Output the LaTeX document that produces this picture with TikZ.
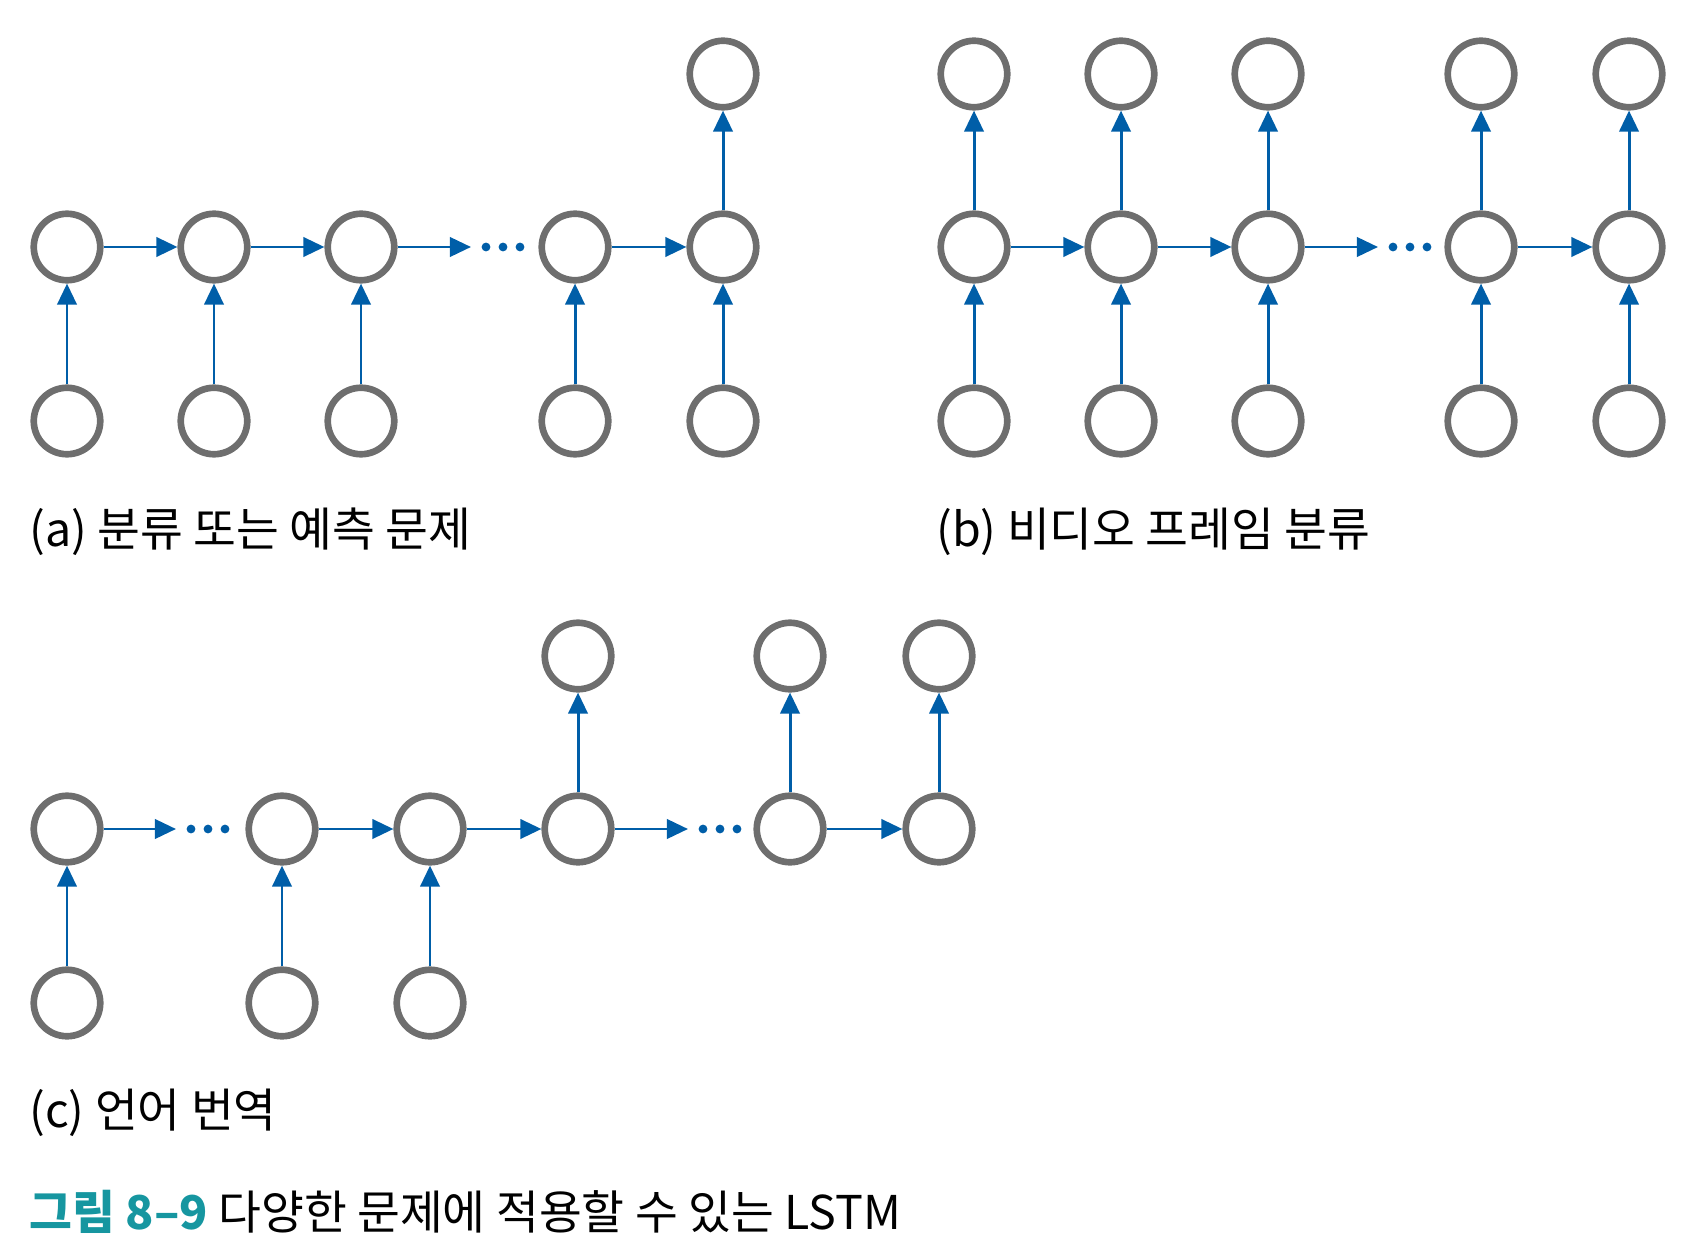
\documentclass[tikz,border=0pt]{standalone}
\usepackage{fontspec}
\setmainfont{Noto Sans CJK KR}
\usetikzlibrary{arrows.meta}
\definecolor{cellgray}{RGB}{110,110,110}
\definecolor{flowblue}{RGB}{0,94,168}
\definecolor{capteal}{RGB}{22,150,160}
\tikzset{
	cell/.style={circle,draw=cellgray,line width=3.8pt,minimum size=1.33cm,inner sep=0pt},
	flow/.style={flowblue,line width=1.7pt,-{Triangle[length=12pt,width=11pt]}},
	lbl/.style={anchor=west,inner sep=0pt,font=\fontsize{26.5}{30}\selectfont},
}
\begin{document}
\begin{tikzpicture}[x=0.02cm,y=-0.02cm]
	\useasboundingbox (0,0) rectangle (1700,1253) ;
	% (a) many to one
	\foreach \n/\x in {1/67,2/214,3/361,4/575,5/723} {
		\node[cell] (ax\n) at (\x,421) {} ;
		\node[cell] (ah\n) at (\x,247) {} ;
		\draw[flow] (ax\n) -- (ah\n) ;
	}
	\node[cell] (ay5) at (723,74) {} ;
	\draw[flow] (ah5) -- (ay5) ;
	\draw[flow] (ah1) -- (ah2) ; \draw[flow] (ah2) -- (ah3) ; \draw[flow] (ah4) -- (ah5) ;
	\coordinate (adots) at (471,247) ; \draw[flow] (ah3) -- (adots) ;
	\foreach \d in {486,503,520} \fill[flowblue] (\d,247) circle (2.5pt) ;
	\node[lbl] (lbla) at (29,532) {(a) 분류 또는 예측 문제} ;
	% (b) many to many, synced
	\foreach \n/\x in {1/974,2/1121,3/1268,4/1481,5/1629} {
		\node[cell] (bx\n) at (\x,421) {} ;
		\node[cell] (bh\n) at (\x,247) {} ;
		\node[cell] (by\n) at (\x,74) {} ;
		\draw[flow] (bx\n) -- (bh\n) ;
		\draw[flow] (bh\n) -- (by\n) ;
	}
	\draw[flow] (bh1) -- (bh2) ; \draw[flow] (bh2) -- (bh3) ; \draw[flow] (bh4) -- (bh5) ;
	\coordinate (bdots) at (1378,247) ; \draw[flow] (bh3) -- (bdots) ;
	\foreach \d in {1393,1410,1427} \fill[flowblue] (\d,247) circle (2.5pt) ;
	\node[lbl] (lblb) at (936,532) {(b) 비디오 프레임 분류} ;
	% (c) encoder-decoder
	\foreach \n/\x in {1/67,2/282,3/430,4/578,5/790,6/939} {
		\node[cell] (ch\n) at (\x,829) {} ;
	}
	\foreach \n/\x in {1/67,2/282,3/430} {
		\node[cell] (cx\n) at (\x,1003) {} ;
		\draw[flow] (cx\n) -- (ch\n) ;
	}
	\foreach \n/\x in {4/578,5/790,6/939} {
		\node[cell] (cy\n) at (\x,656) {} ;
		\draw[flow] (ch\n) -- (cy\n) ;
	}
	\draw[flow] (ch2) -- (ch3) ; \draw[flow] (ch3) -- (ch4) ; \draw[flow] (ch5) -- (ch6) ;
	\coordinate (cdots1) at (176,829) ; \draw[flow] (ch1) -- (cdots1) ;
	\foreach \d in {191,208,225} \fill[flowblue] (\d,829) circle (2.5pt) ;
	\coordinate (cdots2) at (688,829) ; \draw[flow] (ch4) -- (cdots2) ;
	\foreach \d in {703,720,737} \fill[flowblue] (\d,829) circle (2.5pt) ;
	\node[lbl] (lblc) at (29,1113) {(c) 언어 번역} ;
	% caption
	\node[lbl] (caption) at (29,1212) {\textcolor{capteal}{\bfseries 그림 8–9} 다양한 문제에 적용할 수 있는 LSTM} ;
\end{tikzpicture}
\end{document}
